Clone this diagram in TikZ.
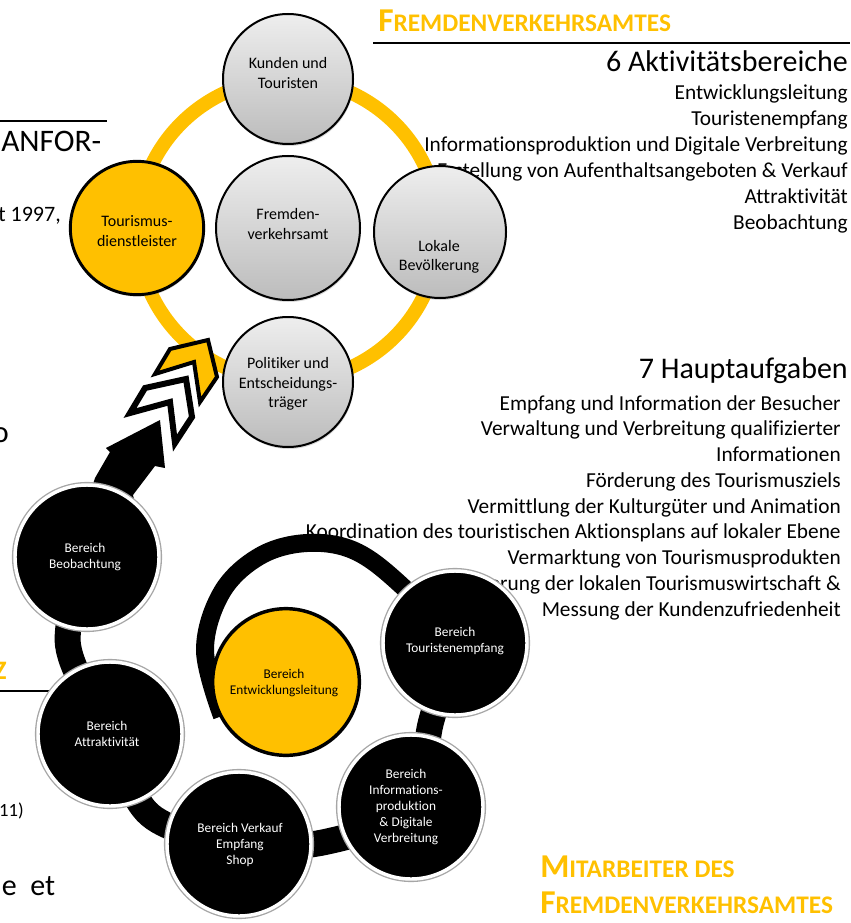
\documentclass[tikz,border=0pt]{standalone}
\usepackage{fontspec}
\setmainfont{Carlito}[Ligatures=NoCommon]
\usetikzlibrary{shadows}
\definecolor{gold}{RGB}{255,192,0}
\definecolor{gtop}{RGB}{238,238,238}
\definecolor{gbot}{RGB}{188,188,188}
\newcommand\fsz[2]{\fontsize{#1}{#2}\selectfont}
\newcommand\goldsc[2]{{\fsz{25}{25}#1}{\fsz{19}{19}#2}}
\begin{document}
\begin{tikzpicture}[x=0.75pt,y=-0.75pt,
  greyc/.style={circle,draw=black,line width=1.5pt,top color=gtop,bottom color=gbot,inner sep=0pt,
    drop shadow={opacity=0.3,shadow xshift=0.6pt,shadow yshift=-1.5pt}},
  goldc/.style={circle,draw=black,fill=gold,inner sep=0pt},
  blackc/.style={circle,fill=black,draw=white,line width=2.6pt,minimum size=108pt,inner sep=0pt,
    preaction={draw=gray!70,line width=4.6pt}},
  ctext/.style={align=center,font=\fsz{12}{14.5},text=black,inner sep=0pt},
  btext/.style={align=center,font=\fsz{10}{12},text=white,inner sep=0pt},
  listtxt/.style={anchor=base east,font=\fsz{16}{19},inner sep=0pt},
  headtxt/.style={anchor=base east,font=\fsz{22.5}{27},inner sep=0pt},
  goldhead/.style={anchor=base west,font=\bfseries,text=gold,inner sep=0pt},
  frag/.style={inner sep=0pt},
  rulestyle/.style={line width=1.5pt},
  band/.style={line width=19.5pt,line cap=butt,line join=round},
  arcband/.style={line width=13.5pt,line cap=butt},
  chev/.style={draw=black,line join=miter}
]
\useasboundingbox (0,0) rectangle (850,923);
\clip (0,0) rectangle (850,923);

% ---------- background texts ----------
\node[goldhead] (title1) at (378,32) {\goldsc{F}{REMDENVERKEHRSAMTES}};
\coordinate (r1a) at (373,43); \coordinate (r1b) at (850,43);
\draw[rulestyle] (r1a) -- (r1b);
\node[headtxt] (h6) at (848,72) {6 Aktivitätsbereiche};
\foreach \t [count=\i] in {Entwicklungsleitung,Touristenempfang,Informationsproduktion und Digitale Verbreitung,Erstellung von Aufenthaltsangeboten \& Verkauf,Attraktivität,Beobachtung}
  \node[listtxt] (a\i) at (848,{100+26*(\i-1)}) {\t};

\node[headtxt] (h7) at (848,378) {7 Hauptaufgaben};
\foreach \t [count=\i] in {Empfang und Information der Besucher,Verwaltung und Verbreitung qualifizierter,Informationen,Förderung des Tourismusziels,Vermittlung der Kulturgüter und Animation,Koordination des touristischen Aktionsplans auf lokaler Ebene,Vermarktung von Tourismusprodukten,Steuerung der lokalen Tourismuswirtschaft \&,Messung der Kundenzufriedenheit}
  \node[listtxt] (b\i) at (841,{410+25.75*(\i-1)}) {\t};

\node[goldhead] (title2) at (540,877) {\goldsc{M}{ITARBEITER DES}};
\node[goldhead] (title3) at (540,913) {\goldsc{F}{REMDENVERKEHRSAMTES}};

% left fragments
\coordinate (r2a) at (0,121); \coordinate (r2b) at (107,121);
\draw[rulestyle] (r2a) -- (r2b);
\node[frag,anchor=base west,font=\fsz{23.5}{28}] (f1) at (1,152) {ANFOR-};
\node[frag,anchor=base east,font=\fsz{16.5}{20}] (f2) at (61,222) {t 1997,};
\node[frag,anchor=base east,font=\fsz{23}{28}] (f3) at (9,442) {o};
\node[frag,anchor=base east,font=\fsz{20}{24}\bfseries,text=gold] (f4) at (7,679) {Z};
\coordinate (r3a) at (0,691); \coordinate (r3b) at (70,691);
\draw[rulestyle] (r3a) -- (r3b);
\node[frag,anchor=base east,font=\fsz{14}{17}] (f5) at (24,816) {11)};
\node[frag,anchor=base east,font=\fsz{22.5}{26}] (f6) at (17,895) {le};
\node[frag,anchor=base west,font=\fsz{22.5}{26}] (f7) at (30,895) {et};

% ---------- yellow ring ----------
\coordinate (ringc) at (288,230);
\draw[gold,line width=10.5pt] (ringc) circle[radius=151];

% ---------- black bands ----------
\coordinate (beo) at (87,557);
\coordinate (att) at (110,734);
\coordinate (ver) at (239,844);
\coordinate (inf) at (411,807);
\coordinate (tou) at (455,643);
\coordinate (ent) at (286,682);
\coordinate (g1) at (68,645);
\coordinate (g2) at (150,815);
\coordinate (g3) at (325,842);
\coordinate (g4) at (431,722);
\draw[band] plot[smooth,tension=0.55] coordinates {(beo) (g1) (att) (g2) (ver) (g3) (inf) (g4) (tou)};
\coordinate (k1) at (402,586);
\coordinate (k2) at (355,551);
\coordinate (k3) at (307,543);
\coordinate (k4) at (260,556);
\coordinate (k5) at (222,592);
\coordinate (k6) at (205,650);
\coordinate (k7) at (222,716);
\draw[arcband] plot[smooth,tension=0.6] coordinates {(tou) (k1) (k2) (k3) (k4) (k5) (k6) (k7)};

% black arrow
\fill (88,500) -- (95,478) -- (110,452) -- (106,448) -- (160,420) -- (165,468) -- (155,466) -- (133,495) -- (136,508) -- cycle;

% ---------- chevrons ----------
\filldraw[chev,fill=gold,line width=3pt] (155,374) -- (170,349) -- (208,340) -- (217,377) -- (200,402) -- (194,362) -- cycle;
\filldraw[chev,fill=white,line width=4.5pt] (130,413) -- (145,388) -- (186,379) -- (192,417) -- (175,443) -- (170,402) -- cycle;

% ---------- top ring circles ----------
\node[greyc,minimum size=97.5pt] (kun) at (288,79) {};
\node[goldc,line width=2.2pt,minimum size=100pt,drop shadow={opacity=0.3,shadow xshift=0.6pt,shadow yshift=-1.5pt}] (tdl) at (137,228) {};
\node[greyc,minimum size=108pt] (fva) at (288,228) {};
\node[greyc,minimum size=99pt] (lok) at (440,232) {};
\node[greyc,minimum size=97.5pt] (pol) at (288,382) {};

\node[ctext] (kun-t) at (288,73) {Kunden und\\Touristen};
\node[ctext] (tdl-t) at (137,231) {Tourismus-\\dienstleister};
\node[ctext] (fva-t) at (288,224) {Fremden-\\verkehrsamt};
\node[ctext] (lok-t) at (439,257) {Lokale\\Bevölkerung};
\node[ctext] (pol-t) at (288,384) {Politiker und\\Entscheidungs-\\träger};

% ---------- bottom circles ----------
\node[blackc] (beoc) at (beo) {};
\node[blackc] (attc) at (att) {};
\node[blackc] (verc) at (ver) {};
\node[blackc] (infc) at (inf) {};
\node[blackc] (touc) at (tou) {};
\node[goldc,line width=2.6pt,minimum size=110pt] (entc) at (ent) {};

\node[btext] (beo-t) at (85,557) {Bereich\\Beobachtung};
\node[btext] (att-t) at (107,734) {Bereich\\Attraktivität};
\node[btext] (ver-t) at (240,845) {Bereich Verkauf\\Empfang\\Shop};
\node[btext] (inf-t) at (406,807) {Bereich\\Informations-\\produktion\\\& Digitale\\Verbreitung};
\node[btext] (tou-t) at (455,641) {Bereich\\Touristenempfang};
\node[btext,text=black] (ent-t) at (284,683) {Bereich\\Entwicklungsleitung};
\end{tikzpicture}
\end{document}
